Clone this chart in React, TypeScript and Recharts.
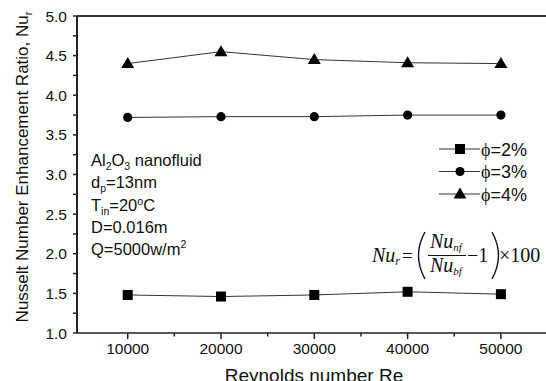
import React from 'react';
import { LineChart, Line, XAxis, YAxis, ReferenceLine, Legend } from 'recharts';

// Reynolds numbers and Nusselt enhancement ratio per volume fraction
const reynolds = [10000, 20000, 30000, 40000, 50000];
const nuPhi2 = [1.48, 1.46, 1.48, 1.52, 1.49];
const nuPhi3 = [3.72, 3.73, 3.73, 3.75, 3.75];
const nuPhi4 = [4.4, 4.55, 4.45, 4.41, 4.4];
const seriesNames = ['ϕ=2%', 'ϕ=3%', 'ϕ=4%'];

const xTicks = [10000, 15000, 20000, 25000, 30000, 35000, 40000, 45000, 50000];
const yTicks = [1, 1.25, 1.5, 1.75, 2, 2.25, 2.5, 2.75, 3, 3.25, 3.5, 3.75, 4, 4.25, 4.5, 4.75, 5];

const data = reynolds.map((re, i) => ({
  re,
  phi2: nuPhi2[i],
  phi3: nuPhi3[i],
  phi4: nuPhi4[i],
}));

const SANS = '"Liberation Sans", Arial, sans-serif';
const SERIF = '"Liberation Serif", "Times New Roman", serif';
const AXIS = '#222';

type Marker = 'square' | 'circle' | 'triangle';

function drawMarker(kind: Marker, cx: number, cy: number, key?: string | number) {
  if (kind === 'square') {
    return <rect key={key} x={cx - 5} y={cy - 5} width={10} height={10} fill="#000" />;
  }
  if (kind === 'circle') {
    return <circle key={key} cx={cx} cy={cy} r={4.6} fill="#000" />;
  }
  return (
    <polygon
      key={key}
      points={`${cx},${cy - 6.5} ${cx - 6.5},${cy + 4.5} ${cx + 6.5},${cy + 4.5}`}
      fill="#000"
    />
  );
}

const markerFor: Record<string, Marker> = { phi2: 'square', phi3: 'circle', phi4: 'triangle' };

const makeDot = (kind: Marker) => (props: any) => {
  const { cx, cy, index } = props;
  if (cx == null || cy == null) return <g key={index} />;
  return drawMarker(kind, cx, cy, index);
};

const YTick = (props: any) => {
  const { x, y, payload } = props;
  const v = payload.value as number;
  const major = Math.abs(v * 2 - Math.round(v * 2)) < 1e-6;
  return (
    <g>
      <line x1={x} x2={x - 4} y1={y} y2={y} stroke={AXIS} strokeWidth={1.5} />
      {major && (
        <text x={x - 10} y={y} dy={5.5} textAnchor="end" fontSize={15.5} fontFamily={SANS} fill="#111">
          {v.toFixed(1)}
        </text>
      )}
    </g>
  );
};

const XTick = (props: any) => {
  const { x, y, payload } = props;
  const v = payload.value as number;
  const major = v % 10000 === 0;
  return (
    <g>
      <line x1={x} x2={x} y1={y} y2={y + (major ? 6 : 3.5)} stroke={AXIS} strokeWidth={1.5} />
      {major && (
        <text x={x} y={y} dy={21} textAnchor="middle" fontSize={15.5} fontFamily={SANS} fill="#111">
          {v}
        </text>
      )}
    </g>
  );
};

const LegendContent = (props: any) => {
  const payload = (props.payload || []) as any[];
  return (
    <svg width={100} height={66} style={{ display: 'block', overflow: 'visible' }}>
      {payload.map((item, i) => {
        const cy = 10 + i * 22.5;
        const name = String(item.value);
        return (
          <g key={name}>
            <line x1={0} x2={41} y1={cy} y2={cy} stroke="#333" strokeWidth={1} />
            {drawMarker(markerFor[item.dataKey], 21, cy)}
            <text x={42} y={cy} dy={6.5} fontSize={18} fill="#111">
              <tspan fontFamily={SERIF}>{name.slice(0, 1)}</tspan>
              <tspan fontFamily={SANS}>{name.slice(1)}</tspan>
            </text>
          </g>
        );
      })}
    </svg>
  );
};

function Annotations() {
  const lineStyle = { fontSize: 16.5, fontFamily: SANS, fill: '#111' } as const;
  return (
    <svg
      width={546}
      height={381}
      style={{ position: 'absolute', left: 0, top: 0, pointerEvents: 'none', overflow: 'visible' }}
    >
      {/* axis titles */}
      <text
        x={28}
        y={167}
        transform="rotate(-90, 28, 167)"
        textAnchor="middle"
        fontSize={17}
        fontFamily={SANS}
        fill="#111"
      >
        Nusselt Number Enhancement Ratio, Nu
        <tspan fontSize={11} dy={4}>r</tspan>
      </text>
      <text x={314} y={381.5} textAnchor="middle" fontSize={19} fontFamily={SANS} fill="#111">
        Reynolds number Re
      </text>

      {/* test conditions */}
      <text x={91} y={166} {...lineStyle}>
        Al<tspan fontSize={10.5} dy={4}>2</tspan>
        <tspan dy={-4}>O</tspan>
        <tspan fontSize={10.5} dy={4}>3</tspan>
        <tspan dy={-4}> nanofluid</tspan>
      </text>
      <text x={91} y={188} {...lineStyle}>
        d<tspan fontSize={10.5} dy={4}>p</tspan>
        <tspan dy={-4}>=13nm</tspan>
      </text>
      <text x={91} y={211} {...lineStyle}>
        T<tspan fontSize={10.5} dy={4}>in</tspan>
        <tspan dy={-4}>=20</tspan>
        <tspan fontSize={10.5} dy={-6}>o</tspan>
        <tspan dy={6}>C</tspan>
      </text>
      <text x={91} y={233} {...lineStyle}>
        D=0.016m
      </text>
      <text x={91} y={255} {...lineStyle}>
        Q=5000w/m<tspan fontSize={10.5} dy={-7}>2</tspan>
      </text>

      {/* definition of Nu_r */}
      <g fontFamily={SERIF} fill="#111">
        <text x={372} y={262} fontSize={20} fontStyle="italic">
          Nu<tspan fontSize={12} dy={3}>r</tspan>
        </text>
        <text x={402} y={262} fontSize={19}>=</text>
        <path d="M 425 232 Q 412 255.5 425 279" stroke="#111" strokeWidth={1.4} fill="none" />
        <text x={430} y={248} fontSize={20} fontStyle="italic">
          Nu<tspan fontSize={11} dy={3}>nf</tspan>
        </text>
        <line x1={428} x2={466} y1={255.5} y2={255.5} stroke="#111" strokeWidth={1} />
        <text x={430} y={272} fontSize={20} fontStyle="italic">
          Nu<tspan fontSize={11} dy={3}>bf</tspan>
        </text>
        <text x={467} y={262} fontSize={20}>−1</text>
        <path d="M 492 232 Q 505 255.5 492 279" stroke="#111" strokeWidth={1.4} fill="none" />
        <text x={499} y={262} fontSize={20}>×100</text>
      </g>
    </svg>
  );
}

export default function App() {
  return (
    <div style={{ position: 'absolute', left: 0, top: 0, width: 546, height: 381, background: '#fff' }}>
      <LineChart width={546} height={381} data={data} margin={{ top: 16, right: 0, bottom: 0, left: 0 }}>
        <XAxis
          dataKey="re"
          type="number"
          domain={[4566, 54834]}
          ticks={xTicks}
          tick={<XTick />}
          tickLine={false}
          tickSize={0}
          tickMargin={0}
          height={48}
          axisLine={{ stroke: AXIS, strokeWidth: 1.5 }}
          allowDataOverflow
        />
        <YAxis
          type="number"
          domain={[1, 5]}
          ticks={yTicks}
          tick={<YTick />}
          tickLine={false}
          tickSize={0}
          tickMargin={0}
          width={77}
          interval={0}
          axisLine={{ stroke: AXIS, strokeWidth: 2 }}
        />
        <ReferenceLine y={5} stroke="#333" strokeWidth={2} />
        <Legend
          layout="vertical"
          align="center"
          verticalAlign="middle"
          content={<LegendContent />}
          wrapperStyle={{ left: 439, top: 139, width: 100, height: 66 }}
        />
        <Line
          dataKey="phi2"
          name={seriesNames[0]}
          stroke="#333"
          strokeWidth={1}
          dot={makeDot('square')}
          isAnimationActive={false}
        />
        <Line
          dataKey="phi3"
          name={seriesNames[1]}
          stroke="#333"
          strokeWidth={1}
          dot={makeDot('circle')}
          isAnimationActive={false}
        />
        <Line
          dataKey="phi4"
          name={seriesNames[2]}
          stroke="#333"
          strokeWidth={1}
          dot={makeDot('triangle')}
          isAnimationActive={false}
        />
      </LineChart>
      <Annotations />
    </div>
  );
}
